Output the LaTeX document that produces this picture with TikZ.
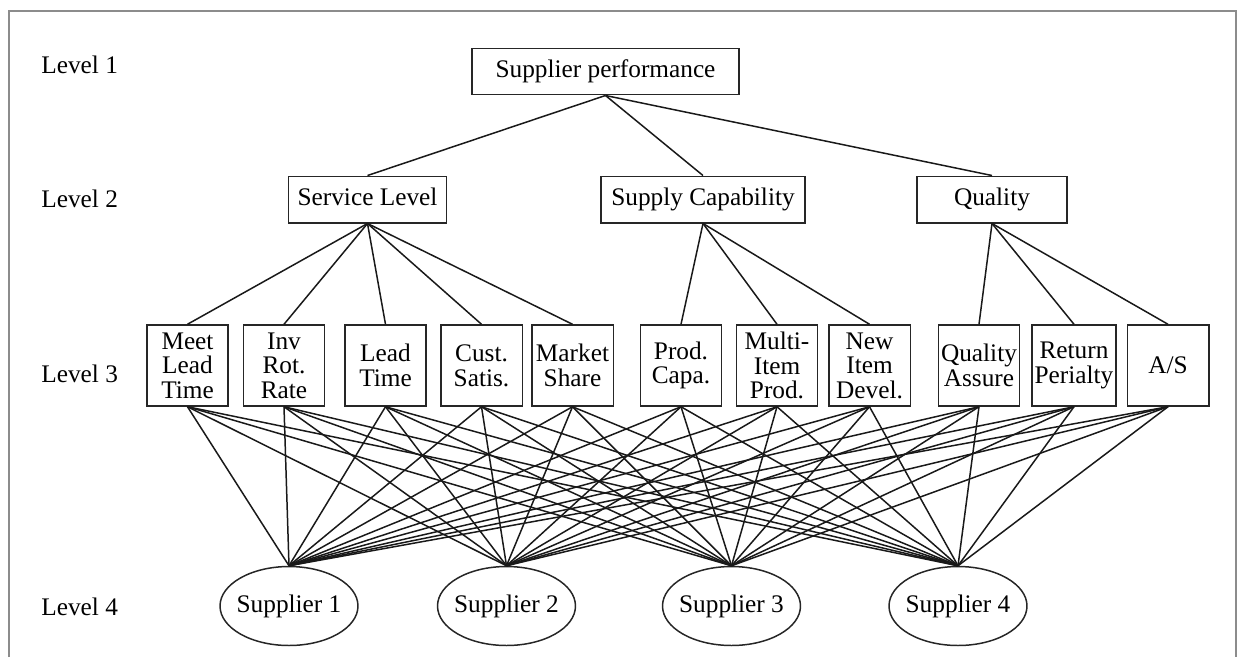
\documentclass[tikz,border=0pt]{standalone}
\usepackage{fontspec}
\setmainfont{Liberation Serif}
\usetikzlibrary{shapes.geometric}
\tikzset{
  txt/.style={font=\fontsize{14.4}{14}\selectfont},
  crit/.style={
    rectangle,
    draw=black!85, line width=0.85pt,
    minimum height=0.93cm,
    text height=10pt, text depth=3pt,
    inner sep=2pt,
    txt},
  subcrit/.style={
    rectangle,
    draw=black!85, line width=0.85pt,
    minimum width=1.63cm,
    minimum height=1.62cm,
    inner sep=1pt,
    align=center,
    txt},
  supplier/.style={
    ellipse,
    draw=black!85, line width=0.85pt,
    minimum width=2.76cm,
    minimum height=1.58cm,
    inner xsep=-0.3cm, inner ysep=0pt,
    txt},
  levellabel/.style={anchor=base west, inner sep=0pt, txt},
  link/.style={draw=black!90, line width=0.85pt},
  frame/.style={draw=black!45, line width=1pt}
}
\begin{document}
\begin{tikzpicture}[x=0.02cm, y=-0.02cm]
  \useasboundingbox (0,0) rectangle (1238,657);
  \draw[frame] (9,657) -- (9,11) -- (1236,11) -- (1236,657);

  % level labels
  \node[levellabel] (lv1) at (41,73)  {Level 1};
  \node[levellabel] (lv2) at (41,207) {Level 2};
  \node[levellabel] (lv3) at (41,382) {Level 3};
  \node[levellabel] (lv4) at (41,615) {Level 4};

  % level 1 and 2
  \node[crit, minimum width=5.34cm] (perf) at (605.5,71.5) {Supplier performance};
  \node[crit, minimum width=3.16cm] (svc)  at (367.5,199.5) {Service Level};
  \node[crit, minimum width=4.08cm] (cap)  at (703,199.5)   {Supply Capability};
  \node[crit, minimum width=3.00cm] (qual) at (992,199.5)   {Quality};

  % level 3
  \node[subcrit] (meet)    at (187.5,365.5) {Meet\\Lead\\Time};
  \node[subcrit] (inv)     at (284,365.5)   {Inv\\Rot.\\Rate};
  \node[subcrit] (lead)    at (385.5,365.5) {Lead\\Time};
  \node[subcrit] (cust)    at (481.5,365.5) {Cust.\\Satis.};
  \node[subcrit] (market)  at (572.5,365.5) {Market\\Share};
  \node[subcrit] (prod)    at (681,365.5)   {Prod.\\Capa.};
  \node[subcrit] (multi)   at (777,365.5)   {Multi-\\Item\\Prod.};
  \node[subcrit] (newitem) at (869.5,365.5) {New\\Item\\Devel.};
  \node[subcrit] (assure)  at (979,365.5)   {Quality\\Assure};
  \node[subcrit, minimum width=1.68cm] (penalty) at (1074,365.5) {Return\\Perialty};
  \node[subcrit] (as)      at (1168,365.5)  {A/S};

  % level 4
  \node[supplier] (s1) at (289,606)   {Supplier 1};
  \node[supplier] (s2) at (506.5,606) {Supplier 2};
  \node[supplier] (s3) at (731.5,606) {Supplier 3};
  \node[supplier] (s4) at (958,606)   {Supplier 4};

  % connectors
  \foreach \c in {svc,cap,qual}
    \draw[link] (perf.south) -- (\c.north);
  \foreach \c in {meet,inv,lead,cust,market}
    \draw[link] (svc.south) -- (\c.north);
  \foreach \c in {prod,multi,newitem}
    \draw[link] (cap.south) -- (\c.north);
  \foreach \c in {assure,penalty,as}
    \draw[link] (qual.south) -- (\c.north);
  \foreach \c in {meet,inv,lead,cust,market,prod,multi,newitem,assure,penalty,as}
    \foreach \s in {s1,s2,s3,s4}
      \draw[link] (\c.south) -- (\s.north);
\end{tikzpicture}
\end{document}
